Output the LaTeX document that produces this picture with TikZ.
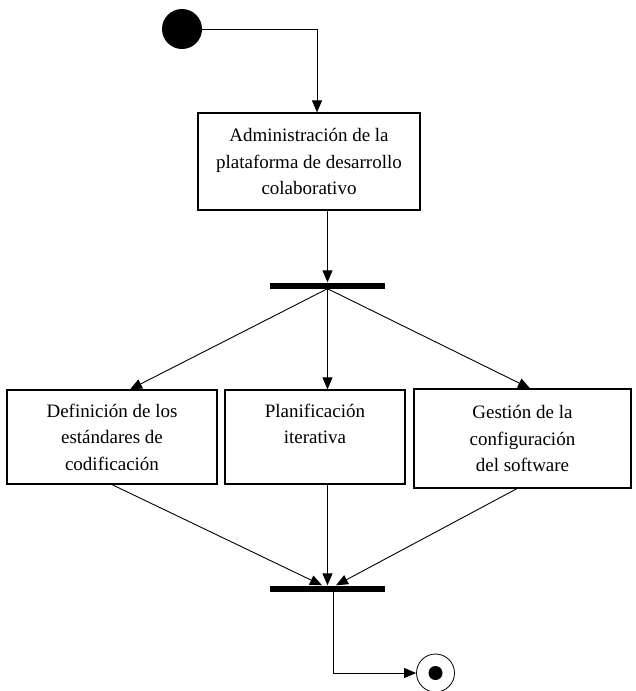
\documentclass[tikz,border=0pt]{standalone}
\usepackage{fontspec}
\setmainfont{Liberation Serif}
\usetikzlibrary{arrows.meta,calc}

\begin{document}
\begin{tikzpicture}[x=1pt,y=-1pt,>={Triangle[length=12pt,width=10pt]},
  every node/.style={font=\fontsize{19}{26.5}\selectfont},
  activity/.style={draw,line width=1.2pt,align=center,inner sep=0pt},
  syncbar/.style={fill,inner sep=0pt,minimum width=115pt,minimum height=6pt},
  flow/.style={->,line width=0.9pt}]
  \useasboundingbox (0,0) rectangle (635,691);
  % start and end
  \node[circle,fill,inner sep=0pt,minimum size=40pt] (start) at (182,29) {};
  \node[circle,draw,line width=0.8pt,inner sep=0pt,minimum size=38pt] (final) at (435.5,673) {};
  \fill (final.center) circle (7pt);
  % activities
  \node[activity,minimum width=222pt,minimum height=97pt] (admin) at (309,161.5)
    {Administración de la\\plataforma de desarrollo\\colaborativo};
  \node[activity,minimum width=210pt,minimum height=94pt] (defin) at (112,437)
    {Definición de los\\estándares de\\codificación};
  \node[activity,minimum width=180pt,minimum height=94pt] (plan) at (315,437)
    {Planificación\\iterativa\\\mbox{}};
  \node[activity,minimum width=217pt,minimum height=99pt] (gest) at (522.5,438.5)
    {Gestión de la\\configuración\\del software};
  % fork and join
  \node[syncbar] (fork) at (327.5,285.5) {};
  \node[syncbar] (join) at (327.5,588.5) {};
  % connectors
  \draw[flow] (start.east) -| ($(admin.north)+(8,0)$);
  \draw[flow] (admin.south -| fork.center) -- (fork.north);
  \draw[flow] (fork.south) -- ($(defin.north)+(18,0)$);
  \draw[flow] (fork.south) -- (fork.south |- plan.north);
  \draw[flow] (fork.south) -- ($(gest.north)+(7.5,0)$);
  \draw[flow] (defin.south) -- ($(join.north)+(-5.5,0)$);
  \draw[flow] (plan.south -| join.center) -- (join.north);
  \draw[flow] ($(gest.south)+(-5.5,0)$) -- ($(join.north)+(8.5,0)$);
  \draw[flow] ($(join.south)+(5.5,0)$) |- (final.west);
\end{tikzpicture}
\end{document}
